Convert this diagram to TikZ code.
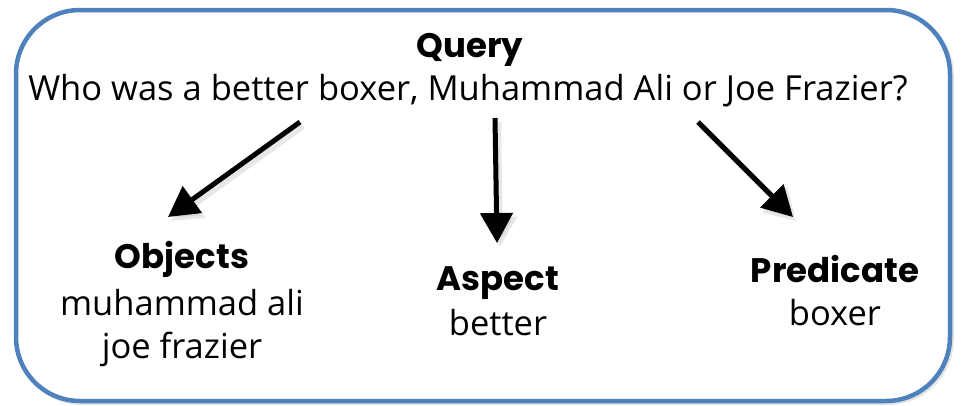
\documentclass[tikz,border=0pt]{standalone}
\usepackage{fontspec}
\setmainfont{Open Sans}
\newfontfamily\headfont{Poppins}
\usetikzlibrary{arrows.meta}
\definecolor{boxblue}{HTML}{4F81BD}
\tikzset{
  txt/.style={anchor=base, inner sep=0pt, font=\fontsize{34.5}{40}\selectfont},
  head/.style={anchor=base, inner sep=0pt, font=\headfont\bfseries\fontsize{34}{40}\selectfont},
  arr/.style={line width=5pt, -{Triangle[length=30pt,width=32pt]}},
  arrshadow/.style={line width=6pt, draw=black!30, opacity=0.3, -{Triangle[length=30pt,width=34pt]}}
}
\begin{document}
\begin{tikzpicture}[x=1pt,y=-1pt]
\useasboundingbox (0,0) rectangle (961,405);
% shadow of box
\draw[line width=4pt, black!10, rounded corners=64pt] (18,12) rectangle (952,403);
\draw[line width=4.5pt, boxblue, fill=white, rounded corners=64pt] (16,10) rectangle (950,401);

\node[head] (qh) at (470,57) {Query};
\node[txt] (q) at (468,100) {Who was a better boxer, Muhammad Ali or Joe Frazier?};

\node[head] (oh) at (182,268) {Objects};
\node[txt] (o1) at (182,315) {muhammad ali};
\node[txt] (o2) at (182,358) {joe frazier};

\node[head] (ah) at (498,290) {Aspect};
\node[txt] (a1) at (498,335) {better};

\node[head] (ph) at (835,282) {Predicate};
\node[txt] (p1) at (835,325) {boxer};

\coordinate (s1) at (300,122);
\coordinate (t1) at (168,217);
\coordinate (s2) at (495,118);
\coordinate (t2) at (497,243);
\coordinate (s3) at (698,122);
\coordinate (t3) at (793,217);

\foreach \s/\t in {s1/t1,s2/t2,s3/t3}{
  \draw[arrshadow] ([shift={(3,4)}]\s) -- ([shift={(3,4)}]\t);
}
\draw[arr] (s1) -- (t1);
\draw[arr] (s2) -- (t2);
\draw[arr] (s3) -- (t3);
\end{tikzpicture}
\end{document}
